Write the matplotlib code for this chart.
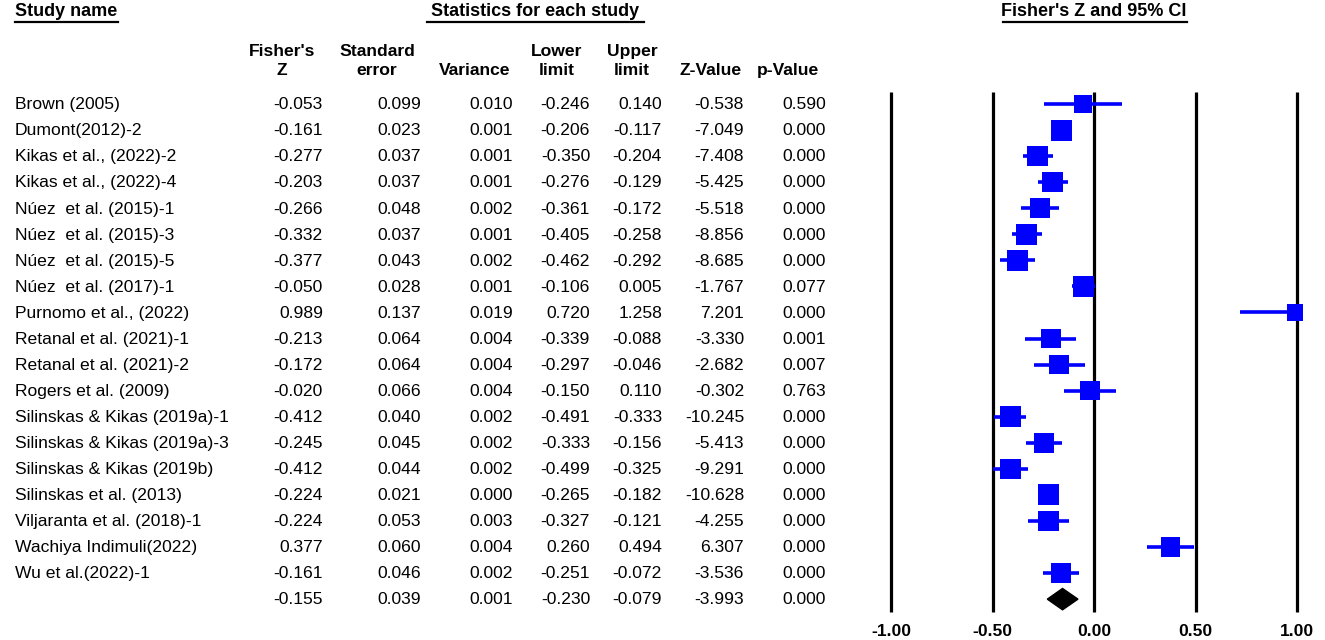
import numpy as np
import matplotlib
matplotlib.use("Agg")
import matplotlib.pyplot as plt

plt.rcParams['font.family'] = ['Liberation Sans', 'DejaVu Sans']

# data
studies = ["Brown (2005)", "Dumont(2012)-2", "Kikas et al., (2022)-2", "Kikas et al., (2022)-4",
           "Núez  et al. (2015)-1", "Núez  et al. (2015)-3", "Núez  et al. (2015)-5",
           "Núez  et al. (2017)-1", "Purnomo et al., (2022)", "Retanal et al. (2021)-1",
           "Retanal et al. (2021)-2", "Rogers et al. (2009)", "Silinskas & Kikas (2019a)-1",
           "Silinskas & Kikas (2019a)-3", "Silinskas & Kikas (2019b)", "Silinskas et al. (2013)",
           "Viljaranta et al. (2018)-1", "Wachiya Indimuli(2022)", "Wu et al.(2022)-1"]
fz = [-0.053, -0.161, -0.277, -0.203, -0.266, -0.332, -0.377, -0.050, 0.989, -0.213,
      -0.172, -0.020, -0.412, -0.245, -0.412, -0.224, -0.224, 0.377, -0.161]
se = [0.099, 0.023, 0.037, 0.037, 0.048, 0.037, 0.043, 0.028, 0.137, 0.064,
      0.064, 0.066, 0.040, 0.045, 0.044, 0.021, 0.053, 0.060, 0.046]
var = [0.010, 0.001, 0.001, 0.001, 0.002, 0.001, 0.002, 0.001, 0.019, 0.004,
       0.004, 0.004, 0.002, 0.002, 0.002, 0.000, 0.003, 0.004, 0.002]
lower = [-0.246, -0.206, -0.350, -0.276, -0.361, -0.405, -0.462, -0.106, 0.720, -0.339,
         -0.297, -0.150, -0.491, -0.333, -0.499, -0.265, -0.327, 0.260, -0.251]
upper = [0.140, -0.117, -0.204, -0.129, -0.172, -0.258, -0.292, 0.005, 1.258, -0.088,
         -0.046, 0.110, -0.333, -0.156, -0.325, -0.182, -0.121, 0.494, -0.072]
zval = [-0.538, -7.049, -7.408, -5.425, -5.518, -8.856, -8.685, -1.767, 7.201, -3.330,
        -2.682, -0.302, -10.245, -5.413, -9.291, -10.628, -4.255, 6.307, -3.536]
pval = [0.590, 0.000, 0.000, 0.000, 0.000, 0.000, 0.000, 0.077, 0.000, 0.001,
        0.007, 0.763, 0.000, 0.000, 0.000, 0.000, 0.000, 0.000, 0.000]
summary = [-0.155, 0.039, 0.001, -0.230, -0.079, -3.993, 0.000]
ticks = [-1.0, -0.5, 0.0, 0.5, 1.0]

n = len(studies)
rows = np.arange(n)
sum_row = n

# figure in pixel-like layout: 1325 x 640
W, H = 1325, 640
fig = plt.figure(figsize=(W / 100, H / 100), dpi=100)

row0, drow = 104, 26.06          # pixel y of first row, row spacing
def py(p):
    return (p - row0) / drow
ylim = (py(H), py(0))

# table axes (x in pixels)
tab = fig.add_axes([0, 0, 860 / W, 1])
tab.set_xlim(0, 860)
tab.set_ylim(*ylim)
tab.axis('off')

fs = 12.6
col_right = [323, 421, 513, 590, 662, 744, 826]
cols = [fz, se, var, lower, upper, zval, pval]

for i in rows:
    tab.text(15, i + 0.03, studies[i], fontsize=fs, va='center', ha='left')
    for c, x in enumerate(col_right):
        tab.text(x, i + 0.03, "%.3f" % cols[c][i], fontsize=fs, va='center', ha='right')
for c, x in enumerate(col_right):
    tab.text(x, sum_row + 0.03, "%.3f" % summary[c], fontsize=fs, va='center', ha='right')

# column headers
hdr = [("Fisher's\nZ", 282), ("Standard\nerror", 377), ("Variance", 475),
       ("Lower\nlimit", 557), ("Upper\nlimit", 632), ("Z-Value", 711), ("p-Value", 788)]
for label, x in hdr:
    tab.text(x, py(78), label, fontsize=fs, fontweight='bold', ha='center', va='bottom',
             linespacing=1.3)

# top headers with underlines
tab.text(15, py(12), "Study name", fontsize=13, fontweight='bold', ha='left', va='center')
tab.plot([15, 118], [py(22), py(22)], color='black', lw=1.6)
tab.text(535, py(12), "Statistics for each study", fontsize=13, fontweight='bold',
         ha='center', va='center')
tab.plot([427, 644], [py(22), py(22)], color='black', lw=1.6)

# forest axes
x0_px, unit = 1094, 203.0
fl, fr = 860, W
ax = fig.add_axes([fl / W, 0, (fr - fl) / W, 1])
ax.set_xlim((fl - x0_px) / unit, (fr - x0_px) / unit)
ax.set_ylim(*ylim)
ax.axis('off')

ax.vlines(ticks, py(92), py(612), color='black', lw=2.3, zorder=1)
for t in ticks:
    ax.text(t, py(631), "%.2f" % t, fontsize=12.6, fontweight='bold', ha='center', va='center')

ax.text(0.0, py(12), "Fisher's Z and 95% CI", fontsize=13, fontweight='bold',
        ha='center', va='center')
ax.plot([-0.45, 0.46], [py(22), py(22)], color='black', lw=1.6)

# random-effects weights (DerSimonian-Laird) for square sizes
se_a = np.array(se)
fz_a = np.array(fz)
w_f = 1 / se_a ** 2
mu_f = np.sum(w_f * fz_a) / np.sum(w_f)
Q = np.sum(w_f * (fz_a - mu_f) ** 2)
C = np.sum(w_f) - np.sum(w_f ** 2) / np.sum(w_f)
tau2 = max(0.0, (Q - (n - 1)) / C)
w_r = 1 / (se_a ** 2 + tau2)
side_px = 21 * np.sqrt(w_r / w_r.max())

lo = np.clip(lower, ticks[0], ticks[-1])
hi = np.clip(upper, ticks[0], ticks[-1])
ax.hlines(rows, lo, hi, color='#0000FF', lw=2.6, zorder=2)
ax.scatter(fz, rows, marker='s', s=(side_px * 0.72) ** 2, color='#0000FF',
           edgecolors='none', zorder=3)

# summary diamond
hh = 0.41
ax.fill([summary[3], summary[0], summary[4], summary[0]],
        [sum_row, sum_row - hh, sum_row, sum_row + hh], color='black', zorder=3)

fig.savefig("out.png", dpi=100, facecolor='white')
